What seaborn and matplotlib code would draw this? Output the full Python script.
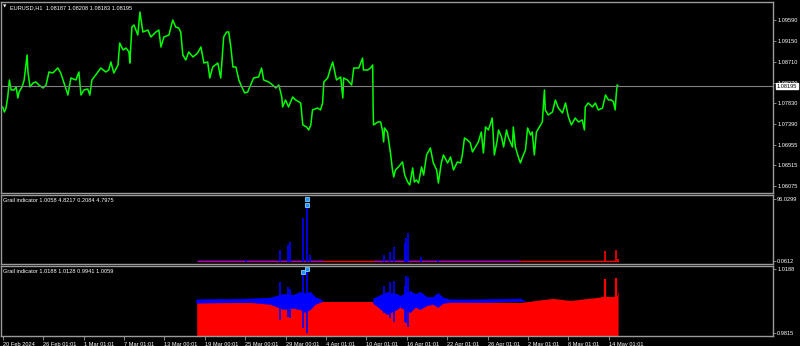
import numpy as np
import matplotlib
matplotlib.use("Agg")
import matplotlib.pyplot as plt
import seaborn as sns

# ---------------- data ----------------
price_bars = [0, 4, 8, 12, 16, 20, 27, 32, 36, 39, 46, 51, 58, 60, 65, 72, 79, 86, 96, 103,
              110, 119, 131, 138, 145, 155, 162, 174, 181, 186, 193, 202, 207, 212, 221, 233,
              245, 252, 257, 264, 274, 278, 286, 293, 300, 302, 307, 312, 321, 326, 333, 345,
              352, 364, 371, 376, 383, 395, 404, 411, 418, 423, 428, 435, 442, 452, 463, 471,
              478, 487, 492, 499, 511, 518, 525, 532, 537, 542, 547, 554, 561, 568, 575, 582,
              589, 596, 608, 615, 620, 632, 641, 649, 656, 663, 665, 672, 679, 689, 696, 708,
              713, 722, 727, 732, 736, 748, 755, 760, 763, 772, 779, 784, 789, 793, 803, 808,
              810, 819, 829, 834, 846, 855, 857, 867, 874, 879, 880, 881, 891, 898, 902, 905,
              907, 914, 921, 926, 929, 933, 940, 950, 955, 962, 967, 974, 978, 983, 988, 995,
              1000, 1007, 1016, 1023, 1031, 1035, 1042, 1047, 1057, 1064, 1071, 1080, 1088,
              1092, 1097, 1104, 1111, 1116, 1123, 1130, 1137, 1142, 1147, 1154, 1163, 1168,
              1175, 1178, 1185, 1190, 1197, 1201, 1211, 1213, 1218, 1225, 1230, 1235, 1242,
              1247, 1254, 1258, 1263, 1268, 1275, 1282, 1287, 1289, 1296, 1306, 1313, 1320,
              1330, 1337, 1344, 1351, 1360, 1368, 1377, 1382, 1384, 1391, 1401, 1408, 1415,
              1425, 1432, 1439, 1446, 1451, 1455, 1458, 1460, 1462]
price_vals = [1.07752, 1.07645, 1.07730, 1.07963, 1.08324, 1.08112, 1.08112, 1.08176, 1.07942,
              1.08069, 1.08176, 1.08324, 1.08854, 1.08494, 1.08176, 1.08260, 1.08282, 1.08218,
              1.08154, 1.08218, 1.08494, 1.08472, 1.08578, 1.08472, 1.08282, 1.08006, 1.08366,
              1.08324, 1.08494, 1.08006, 1.08112, 1.08133, 1.08006, 1.08324, 1.08430, 1.08578,
              1.08494, 1.08536, 1.08706, 1.08472, 1.08642, 1.09108, 1.08960, 1.09002, 1.08918,
              1.08684, 1.09448, 1.09490, 1.09278, 1.09766, 1.09342, 1.09384, 1.09236, 1.09342,
              1.09384, 1.09024, 1.09236, 1.09278, 1.09596, 1.09448, 1.09427, 1.09342, 1.08854,
              1.08748, 1.08918, 1.08812, 1.08896, 1.09024, 1.08684, 1.08706, 1.08366, 1.08600,
              1.08684, 1.08366, 1.09236, 1.09342, 1.09342, 1.09024, 1.08600, 1.08600, 1.08324,
              1.08176, 1.08048, 1.08069, 1.08218, 1.08366, 1.08388, 1.08578, 1.08324, 1.08282,
              1.08218, 1.08154, 1.08218, 1.07963, 1.07752, 1.07900, 1.07752, 1.07963, 1.07900,
              1.07836, 1.07370, 1.07327, 1.07264, 1.07370, 1.07688, 1.07730, 1.07688, 1.07836,
              1.08282, 1.08366, 1.08578, 1.08706, 1.08494, 1.08324, 1.08388, 1.07942, 1.08366,
              1.08324, 1.08218, 1.08578, 1.08578, 1.08790, 1.08536, 1.08536, 1.08578, 1.08642,
              1.07752, 1.07370, 1.07433, 1.07433, 1.07264, 1.07009, 1.07306, 1.07221, 1.06797,
              1.06415, 1.06267, 1.06415, 1.06479, 1.06585, 1.06309, 1.06161, 1.06097, 1.06458,
              1.06161, 1.06203, 1.06139, 1.06479, 1.06309, 1.06734, 1.06882, 1.06564, 1.06415,
              1.06139, 1.06564, 1.06734, 1.06564, 1.06691, 1.06415, 1.06585, 1.06564, 1.06734,
              1.07094, 1.07052, 1.06988, 1.06797, 1.06903, 1.07009, 1.07221, 1.06776, 1.07327,
              1.07264, 1.07518, 1.06734, 1.07052, 1.07264, 1.07115, 1.06903, 1.07264, 1.07115,
              1.06903, 1.07327, 1.06903, 1.06691, 1.06564, 1.06691, 1.06840, 1.07306, 1.07158,
              1.07221, 1.06734, 1.07221, 1.07327, 1.07433, 1.08112, 1.07688, 1.07582, 1.07645,
              1.07900, 1.07730, 1.07624, 1.07836, 1.07539, 1.07370, 1.07518, 1.07433, 1.07476,
              1.07264, 1.07752, 1.07836, 1.07752, 1.07836, 1.07688, 1.07730, 1.08006, 1.07900,
              1.07900, 1.07858, 1.07688, 1.08069, 1.08218, 1.08195]
current_price = 1.08195
price_ticks = [1.09590, 1.09150, 1.08710, 1.08270, 1.07830, 1.07390, 1.06955, 1.06515, 1.06075]

# Grail indicator, window 1
w1_spike_bars = [577, 658, 677, 682, 713, 724, 729, 905, 921, 929, 955, 959, 962, 993, 1035]
w1_spike_vals = [3.0, 17.0, 24.8, 29.4, 66.6, 86.7, 9.3, 9.3, 13.9, 21.7, 27.9, 35.6, 43.4, 6.2, 3.1]
w1_red_bars = [1432, 1458, 1462]
w1_red_vals = [15.5, 17.0, 4.5]
w1_marker_bars = [724, 724]
w1_marker_vals = [96.0, 86.7]
w1_ticks = [96.0299, 0.0612]

# Grail indicator, window 2
red_bars = [461, 589, 637, 762, 881, 1064, 1230, 1285, 1308, 1349, 1389, 1413, 1425, 1439, 1451, 1460, 1462]
red_top = [0.99936, 0.99936, 0.99936, 0.99995, 0.99995, 0.99995, 0.99936, 1.00113, 1.00172,
           1.00054, 1.00172, 1.00231, 1.00290, 1.00290, 1.00290, 1.00350, 1.00702]
red_spike_bars = [1432, 1458]
red_spike_vals = [1.01291, 1.01350]
band_bars = [461, 589, 637, 668, 691, 706, 720, 732, 743, 755, 762, 820,
             881, 893, 914, 938, 945, 969, 981, 993, 1009, 1023, 1035, 1047, 1064, 1135, 1230, 1242]
band_hi = [1.0009, 1.0014, 1.0020, 1.0041, 1.0035, 1.0052, 1.0047, 1.0052, 1.0023, 1.0011, 0.99995, np.nan,
           1.0014, 1.0029, 1.0052, 1.0041, 1.0029, 1.0058, 1.0041, 1.0052, 1.0023, 1.0023, 1.0047, 1.0020,
           1.0009, 1.0009, 1.0014, 0.99995]
band_lo = [0.99900, 0.99936, 0.9982, 0.9953, 0.9959, 0.9953, 0.9935, 0.9953, 0.9982, 0.9994, 0.99995, np.nan,
           0.9988, 0.9965, 0.9923, 0.9953, 0.9965, 0.9935, 0.9965, 0.9953, 0.9976, 0.9982, 0.9965, 0.9988,
           0.9994, 0.9994, 0.99995, 0.99995]
spike_bars = [658, 677, 682, 713, 724, 905, 921, 929, 955, 959, 962]
spike_hi = [1.0111, 1.0082, 1.0070, 1.0170, 1.0188, 1.0088, 1.0111, 1.0117, 1.0088, 1.0147, 1.0141]
spike_lo = [0.9894, 0.9911, 0.9905, 0.9846, 0.9817, 0.9935, 0.9905, 0.9882, 0.9882, 0.9876, 0.9852]
w2_marker_bars = [713, 724]
w2_marker_vals = [1.0170, 1.0188]
w2_ticks = [1.0188, 0.9815]

date_labels = ["20 Feb 2024", "26 Feb 01:01", "1 Mar 01:01", "7 Mar 01:01", "13 Mar 00:01",
               "19 Mar 00:01", "25 Mar 00:01", "29 Mar 00:01", "4 Apr 01:01", "10 Apr 01:01",
               "16 Apr 01:01", "22 Apr 01:01", "26 Apr 01:01", "2 May 01:01", "8 May 01:01",
               "14 May 01:01"]
bars_per_label = 96

# ---------------- style ----------------
sns.set_theme(style="dark", rc={"axes.facecolor": "black", "figure.facecolor": "black",
                                "axes.edgecolor": "#909090", "text.color": "white",
                                "xtick.color": "white", "ytick.color": "white"})
plt.rcParams['font.family'] = ['Liberation Sans', 'DejaVu Sans']
FS = 4.1
SP = "#9a9a9a"

fig = plt.figure(figsize=(8, 3.46), dpi=100, facecolor="black")
L, W = 0.00125, 0.965
ax0 = fig.add_axes([L, 0.4422, W, 0.552])
ax1 = fig.add_axes([L, 0.237, W, 0.1994])
ax2 = fig.add_axes([L, 0.0289, W, 0.2023])
XLIM = (-4, 1830)

for ax in (ax0, ax1, ax2):
    ax.set_facecolor("black")
    ax.set_xlim(*XLIM)
    ax.grid(False)
    for s in ax.spines.values():
        s.set_color(SP)
        s.set_linewidth(1.0)
    ax.yaxis.tick_right()
    ax.tick_params(axis="y", which="both", length=2, width=0.6, color=SP, pad=1,
                   labelsize=FS, labelcolor="white", right=True, left=False)

# ---- main price panel ----
sns.lineplot(x=price_bars, y=price_vals, ax=ax0, color="#00ff00", lw=1.1, sort=False)
ax0.axhline(current_price, color="#808080", lw=0.8)
ax0.set_ylim(1.05927, 1.09978)
ax0.set_yticks(price_ticks)
ax0.set_yticklabels([f"{t:.5f}" for t in price_ticks])
ax0.set_xticks([])
ax0.set_xlabel("")
ax0.set_ylabel("")
ax0.text(0.003, 0.985, "\u25BC", transform=ax0.transAxes,
         fontsize=3.2, color="white", va="top", ha="left", family="DejaVu Sans")
ax0.text(0.012, 0.985, "EURUSD,H1  1.08187 1.08208 1.08183 1.08195", transform=ax0.transAxes,
         fontsize=FS, color="white", va="top", ha="left")
ax0.annotate(f"{current_price:.5f}", xy=(1.0, current_price),
             xycoords=("axes fraction", "data"), xytext=(2.5, 0), textcoords="offset points",
             fontsize=FS, color="black", va="center", ha="left",
             bbox=dict(boxstyle="square,pad=0.15", fc="white", ec="white"), annotation_clip=False)

# ---- window 1 ----
ax1.set_ylim(-3.8, 102.2)
ax1.hlines(0.6, red_bars[0], red_bars[-1], color="red", lw=1.0)
ax1.hlines(1.6, 461, 762, color="blue", lw=0.8)
ax1.hlines(1.6, 881, 1230, color="blue", lw=0.8)
ax1.vlines(w1_spike_bars, 0, w1_spike_vals, color="blue", lw=1.2)
ax1.vlines(w1_red_bars, 0, w1_red_vals, color="red", lw=1.2)
ax1.plot(w1_marker_bars, w1_marker_vals, ls="none", marker="s", ms=3,
         mfc="#1e90ff", mec="#87cefa", mew=0.6)
ax1.set_yticks(w1_ticks)
ax1.set_yticklabels(["96.0299", "0.0612"])
ax1.set_xticks([])
ax1.text(0.003, 0.96, "Grail indicator 1.0058 4.8217 0.2084 4.7975", transform=ax1.transAxes,
         fontsize=FS, color="white", va="top", ha="left")

# ---- window 2 ----
ax2.set_ylim(0.97993, 1.02057)
ax2.fill_between(red_bars, 0.97, red_top, color="red", lw=0)
ax2.vlines(red_spike_bars, 0.97, red_spike_vals, color="red", lw=1.6)
ax2.fill_between(band_bars, band_lo, band_hi, color="blue", lw=0.4, edgecolor="blue")
ax2.vlines(spike_bars, spike_lo, spike_hi, color="blue", lw=1.2)
ax2.plot(w2_marker_bars, w2_marker_vals, ls="none", marker="s", ms=3,
         mfc="#1e90ff", mec="#87cefa", mew=0.6)
ax2.set_yticks(w2_ticks)
ax2.set_yticklabels([f"{t:.4f}" for t in w2_ticks])
ax2.text(0.003, 0.96, "Grail indicator 1.0188 1.0128 0.9941 1.0059", transform=ax2.transAxes,
         fontsize=FS, color="white", va="top", ha="left")
xt = [i * bars_per_label for i in range(len(date_labels))]
ax2.set_xticks(xt)
ax2.set_xticklabels(date_labels, ha="left")
ax2.tick_params(axis="x", length=3, width=0.6, color=SP, pad=1, labelsize=FS,
                labelcolor="white", bottom=True)
ax2.set_xlabel("")
ax2.set_ylabel("")

fig.savefig("out.png", dpi=100, facecolor="black")
